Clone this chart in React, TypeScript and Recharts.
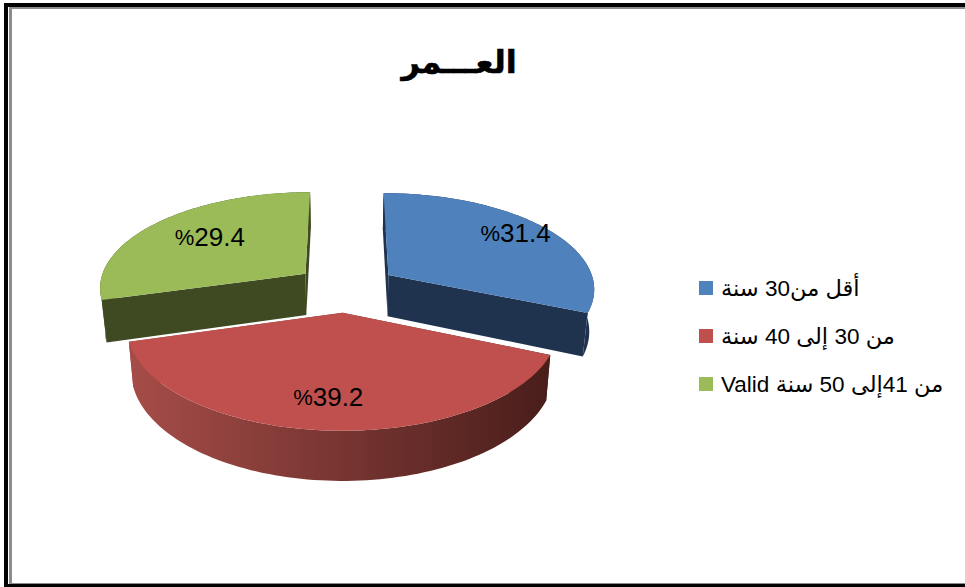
import React from "react";
import { PieChart, Pie, Legend } from "recharts";

const categories = ["أقل من30 سنة", "من 30 إلى 40 سنة", "من 41إلى 50 سنة Valid"];
const shares = [31.4, 39.2, 29.4];
const valueLabels = ["31.4", "39.2", "29.4"];
const topColors = ["#4f81bd", "#c0504d", "#9bbb59"];
const sideStops = [
  ["#1f334f", "#1f334f"],
  ["#a54c48", "#4a1e1b"],
  ["#3f4a22", "#3f4a22"],
];
const title = "العـــمر";

const table = categories.map((name, i) => ({ name, value: shares[i], fill: topColors[i], index: i }));

const FONT = "'Liberation Sans', Arial, 'DejaVu Sans', sans-serif";
const RADIUS = 207;
const TILT = 0.4623;
const PERSPECTIVE = 0.13;
const EXPLODE = 0.25;
const DEPTH = 42;
const DEPTH_SHRINK = 0.98;
const LABEL_OFFSETS = [
  [0.72, 13, -7],
  [0.68, -4, 8],
  [0.57, -9, -7],
];

function project(cx: number, cy: number, u: number, v: number, low: boolean) {
  const s = 1 / (1 - PERSPECTIVE * v);
  let x = RADIUS * u * s;
  const y = RADIUS * TILT * v * s + (low ? DEPTH * s : 0);
  if (low) x *= DEPTH_SHRINK;
  return [cx + x, cy + y];
}

const toPath = (pts: number[][]) =>
  "M" + pts.map((p) => `${p[0].toFixed(2)},${p[1].toFixed(2)}`).join("L") + "Z";

function Slice3D(props: any) {
  const { cx, cy, startAngle, endAngle, fill, index } = props;
  const t0 = 90 - startAngle;
  const t1 = 90 - endAngle;
  const rad = Math.PI / 180;
  const mid = ((t0 + t1) / 2) * rad;
  const ou = EXPLODE * Math.sin(mid);
  const ov = -EXPLODE * Math.cos(mid);
  const rim = (low: boolean) => {
    const pts: number[][] = [];
    const n = 90;
    for (let i = 0; i <= n; i++) {
      const th = (t0 + ((t1 - t0) * i) / n) * rad;
      pts.push(project(cx, cy, ou + Math.sin(th), ov - Math.cos(th), low));
    }
    return pts;
  };
  const apexTop = project(cx, cy, ou, ov, false);
  const apexLow = project(cx, cy, ou, ov, true);
  const top = rim(false);
  const low = rim(true);
  const gid = `side-grad-${index}`;
  const stops = sideStops[index];
  const sideFill = `url(#${gid})`;
  const xs = low.map((p) => p[0]);
  return (
    <g>
      <defs>
        <linearGradient id={gid} gradientUnits="userSpaceOnUse" x1={Math.min(...xs)} x2={Math.max(...xs)} y1={0} y2={0}>
          <stop offset="0%" stopColor={stops[0]} />
          <stop offset="100%" stopColor={stops[1]} />
        </linearGradient>
      </defs>
      <path d={toPath([apexTop, top[0], low[0], apexLow])} fill={sideFill} />
      <path d={toPath([apexTop, top[top.length - 1], low[low.length - 1], apexLow])} fill={sideFill} />
      <path d={toPath([...top, ...low.slice().reverse()])} fill={sideFill} />
      <path d={toPath([apexTop, ...top])} fill={fill} />
    </g>
  );
}

function SliceLabel(props: any) {
  const { cx, cy, midAngle, index } = props;
  const [f, dx, dy] = LABEL_OFFSETS[index];
  const th = ((90 - midAngle) * Math.PI) / 180;
  const r = EXPLODE + f;
  const p = project(cx, cy, r * Math.sin(th), -r * Math.cos(th), false);
  return (
    <text x={p[0] + dx} y={p[1] + dy} textAnchor="middle" dominantBaseline="central" fontFamily={FONT} fontSize={26} fill="#000" direction="ltr">
      <tspan fontSize={22}>%</tspan>
      {valueLabels[index]}
    </text>
  );
}

function LegendBox(props: any) {
  const items = props.payload || [];
  return (
    <div style={{ fontFamily: FONT, fontSize: 22.5, color: "#000" }}>
      {items.map((it: any, i: number) => (
        <div key={i} style={{ display: "flex", alignItems: "center", height: 48 }}>
          <span style={{ width: 14, height: 14, background: it.color, display: "block", marginRight: 8, flex: "none" }} />
          <span dir="rtl" style={{ whiteSpace: "nowrap" }}>{it.value}</span>
        </div>
      ))}
    </div>
  );
}

const bar = (s: React.CSSProperties): React.CSSProperties => ({ position: "absolute", ...s });

export default function App() {
  return (
    <div style={{ position: "absolute", left: 0, top: 0, width: 965, height: 587, background: "#fff", overflow: "hidden" }}>
      <div style={bar({ left: 4, top: 3, width: 961, height: 4, background: "#000" })} />
      <div style={bar({ left: 4, top: 3, width: 4, height: 584, background: "#000" })} />
      <div style={bar({ left: 9, top: 7, width: 956, height: 2, background: "#8c8c8c" })} />
      <div style={bar({ left: 9, top: 7, width: 3, height: 576, background: "#8c8c8c" })} />
      <div style={bar({ left: 4, top: 584, width: 961, height: 3, background: "#000" })} />
      <div style={bar({ left: 9, top: 583, width: 956, height: 1, background: "#8c8c8c" })} />
      <div
        dir="rtl"
        style={bar({ left: 259, width: 400, top: 38, textAlign: "center", fontFamily: FONT, fontWeight: "bold", fontSize: 32, color: "#000", lineHeight: "48px", WebkitTextStroke: "0.6px #000" })}
      >
        {title}
      </div>
      <div style={bar({ left: 0, top: 0 })}>
        <PieChart width={965} height={587} margin={{ top: 0, right: 0, bottom: 0, left: 0 }}>
          <Pie
            data={table}
            dataKey="value"
            nameKey="name"
            cx={346}
            cy={288}
            innerRadius={0}
            outerRadius={RADIUS}
            startAngle={90}
            endAngle={-270}
            stroke="none"
            shape={Slice3D}
            label={SliceLabel}
            labelLine={false}
            isAnimationActive={false}
          />
          <Legend
            layout="vertical"
            align="right"
            verticalAlign="top"
            content={LegendBox}
            wrapperStyle={{ left: 699, right: "auto", top: 264, width: 266 }}
          />
        </PieChart>
      </div>
    </div>
  );
}
